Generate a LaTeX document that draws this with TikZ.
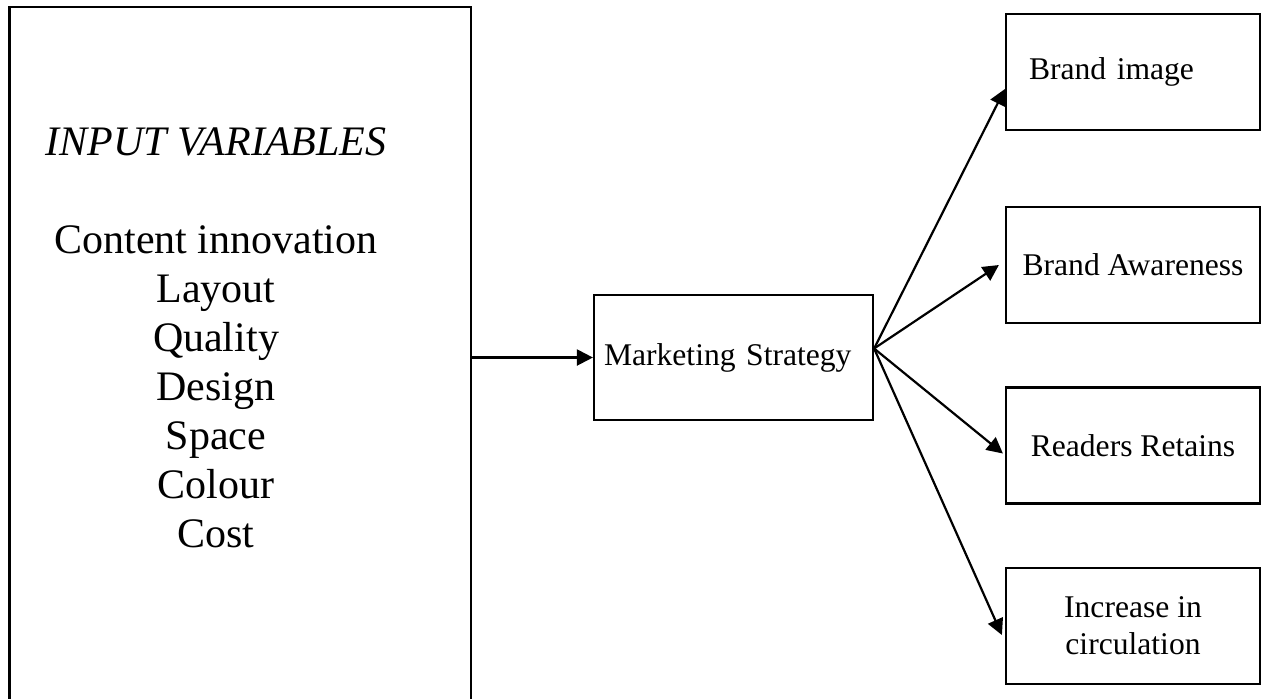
\documentclass[tikz,border=0pt]{standalone}
\usepackage{fontspec}
\setmainfont{Liberation Serif}
\usetikzlibrary{arrows.meta}
\tikzset{
    box/.style={draw, line width=1.1pt, inner sep=0pt},
    outbox/.style={box, minimum width=127pt, minimum height=58pt, align=center,
        font=\fontsize{15.8}{18.5}\selectfont},
    link/.style={line width=1.1pt, -{Triangle[length=8pt,width=8pt]}}
}
\begin{document}
\begin{tikzpicture}[x=0.5pt,y=-0.5pt]
    \useasboundingbox (0,0) rectangle (1261,698);

    \node [box, minimum width=230.75pt, minimum height=356.5pt] (inbox) at (240.25,363.5) {}; % input box, runs off the page
    \node [anchor=base, align=center, font=\fontsize{21}{24.5}\selectfont] (vars) at (216,547)
        {\textit{INPUT VARIABLES}\\[24.5pt] Content innovation\\ Layout\\ Quality\\ Design\\ Space\\ Colour\\ Cost};

    \node [box, text width=129.5pt, inner xsep=5pt, minimum height=62.5pt, align=left,
        font=\fontsize{15.8}{18.5}\selectfont] (mkt) at (733.5,357.5) {Marketing Strategy};

    \node [outbox, text width=104pt, inner xsep=11.5pt, align=left] (img) at (1133,72) {Brand image};
    \node [outbox] (aware) at (1133,265) {Brand Awareness};
    \node [outbox] (retain) at (1133,445.5) {Readers Retains};
    \node [outbox] (circ) at (1133,626) {Increase in\\ circulation};

    \draw [link] (mkt.west -| inbox.east) -- (mkt.west);   % input to strategy

    \coordinate (fork) at ([yshift=4.5pt]mkt.east);        % all outputs leave here
    \draw [link] (fork) -- ([yshift=-8.5pt]img.west);
    \draw [link] (fork) -- ([xshift=-3pt]aware.west);
    \draw [link] (fork) -- ([xshift=-1pt,yshift=-4pt]retain.west);
    \draw [link] (fork) -- ([xshift=-1.5pt,yshift=-4.5pt]circ.west);
\end{tikzpicture}
\end{document}
